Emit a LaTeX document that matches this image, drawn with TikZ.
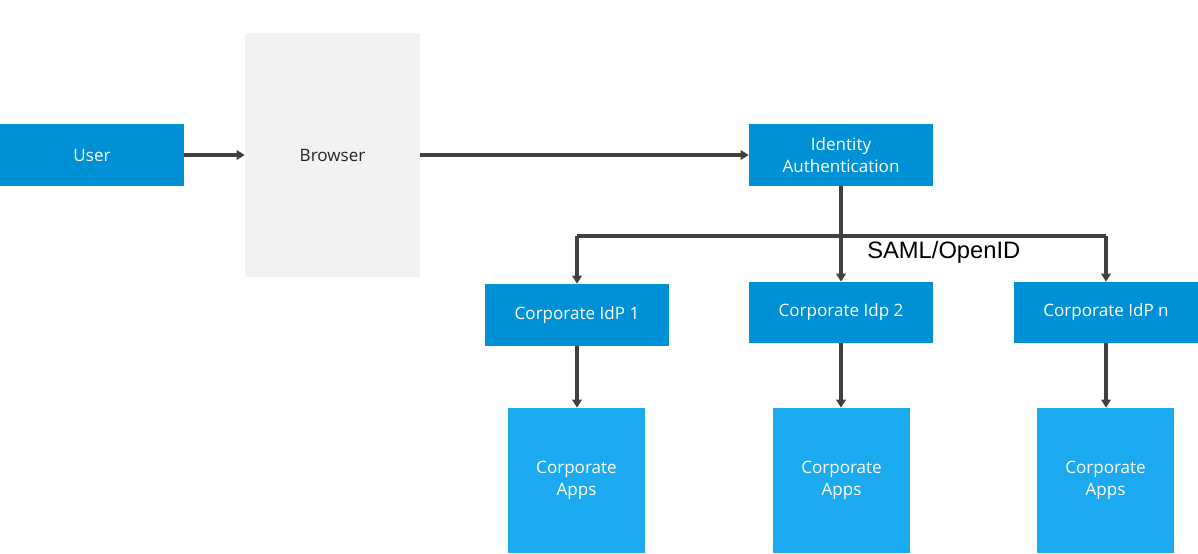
\documentclass[tikz,border=0pt]{standalone}
\usepackage{fontspec}
\setmainfont{Open Sans}
\newfontfamily\arialfont{Liberation Sans}
\usetikzlibrary{arrows.meta}
\definecolor{darkblue}{RGB}{0,144,214}
\definecolor{lightblue}{RGB}{27,170,240}
\definecolor{greybox}{RGB}{242,242,242}
\definecolor{linegrey}{RGB}{64,64,64}
\begin{document}
\begin{tikzpicture}[x=0.75pt,y=-0.75pt,
  bluebox/.style={fill=darkblue,draw=none,text=white,font=\fontsize{12.8}{16}\selectfont,align=center,inner sep=0pt},
  appbox/.style={fill=lightblue,draw=none,text=white,font=\fontsize{12.8}{16}\selectfont,align=center,inner sep=0pt},
  conn/.style={draw=linegrey,line width=2.5pt,-{Triangle[length=6pt,width=7pt]}},
  plain/.style={draw=linegrey,line width=2.5pt}]
\useasboundingbox (0,0) rectangle (1198,553);
\node[bluebox,minimum width=184*0.75pt,minimum height=62*0.75pt] (user) at (92,155) {User};
\node[fill=greybox,minimum width=175*0.75pt,minimum height=244*0.75pt,inner sep=0pt] (browser) at (332.5,155) {};
\node[text=black!85,font=\fontsize{12.8}{16}\selectfont] (browsertext) at (332.5,155) {Browser};
\node[bluebox,minimum width=184*0.75pt,minimum height=62*0.75pt] (ida) at (841,155) {Identity\\Authentication};
\node[bluebox,minimum width=184*0.75pt,minimum height=62*0.75pt] (idp1) at (577,315) {Corporate IdP 1};
\node[bluebox,minimum width=184*0.75pt,minimum height=61*0.75pt] (idp2) at (841,312.5) {Corporate Idp 2};
\node[bluebox,minimum width=184*0.75pt,minimum height=61*0.75pt] (idpn) at (1106,312.5) {Corporate IdP n};
\node[appbox,minimum width=137*0.75pt,minimum height=145*0.75pt] (app1) at (576.5,480.5) {Corporate\\Apps};
\node[appbox,minimum width=137*0.75pt,minimum height=145*0.75pt] (app2) at (841.5,480.5) {Corporate\\Apps};
\node[appbox,minimum width=137*0.75pt,minimum height=145*0.75pt] (appn) at (1105.5,480.5) {Corporate\\Apps};
\coordinate (hl) at (577,236);
\coordinate (hr) at (1106,236);
\node[anchor=west,inner sep=0pt,font=\arialfont\fontsize{17.8}{20}\selectfont] (saml) at (867,252) {SAML/OpenID};
\draw[conn] (user.east) -- (browser.west);
\draw[conn] (browser.east) -- (ida.west);
\draw[conn] (ida.south) -- (idp2.north);
\draw[plain] (hl) -- (hr);
\draw[conn] (hl) -- (idp1.north);
\draw[conn] (hr) -- (idpn.north);
\draw[conn] (idp1.south) -- (idp1.south |- app1.north);
\draw[conn] (idp2.south) -- (idp2.south |- app2.north);
\draw[conn] (idpn.south) -- (idpn.south |- appn.north);
\end{tikzpicture}
\end{document}
